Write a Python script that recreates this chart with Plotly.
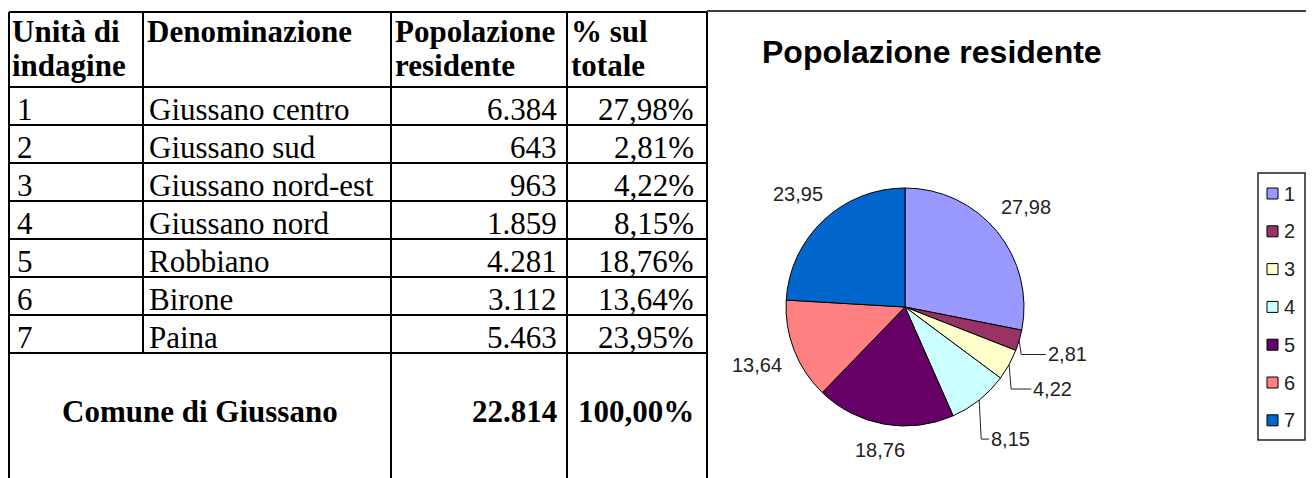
import math
import plotly.graph_objects as go

# ---------------- data ----------------
units = ["1", "2", "3", "4", "5", "6", "7"]
names = ["Giussano centro", "Giussano sud", "Giussano nord-est", "Giussano nord",
         "Robbiano", "Birone", "Paina"]
population = [6384, 643, 963, 1859, 4281, 3112, 5463]
pct = [27.98, 2.81, 4.22, 8.15, 18.76, 13.64, 23.95]
total_population = 22814
total_pct = 100.00
header_lines = [["Unità di", "indagine"], ["Denominazione"],
                ["Popolazione", "residente"], ["% sul", "totale"]]
total_label = "Comune di Giussano"
chart_title = "Popolazione residente"
slice_colors = ["#9999FF", "#993366", "#FFFFCC", "#CCFFFF", "#660066", "#FF8080", "#0066CC"]

# ---------------- helpers ----------------
def it_int(v):
    return f"{v:,}".replace(",", ".")

def it_pct(v, sign=True):
    s = f"{v:.2f}".replace(".", ",")
    return s + "%" if sign else s

# page body has an 8px margin: work in screen coordinates via the axes ranges
OFF = 8
SW, SH = 1314, 478
W, H = SW - OFF, SH - OFF
SERIF = "Liberation Serif, Times New Roman, serif"
SANS = "Liberation Sans, Arial, sans-serif"

col_x = [9, 143, 391, 567, 707]
header_top, header_bot = 12, 87
row_h = 38
row_tops = [header_bot + i * row_h for i in range(len(units))]
total_top = row_tops[-1] + row_h

fig = go.Figure()
shapes = []
annotations = []

def hline(y, x0, x1, w=2):
    shapes.append(dict(type="line", xref="x", yref="y", x0=x0, x1=x1, y0=y, y1=y,
                       line=dict(color="black", width=w)))

def vline(x, y0, y1, w=2):
    shapes.append(dict(type="line", xref="x", yref="y", x0=x, x1=x, y0=y0, y1=y1,
                       line=dict(color="black", width=w)))

def text(x, y, s, size=31, bold=False, anchor="left", family=SERIF, color="black"):
    if bold:
        s = "<b>" + s + "</b>"
    annotations.append(dict(xref="x", yref="y", x=x, y=y, text=s, showarrow=False,
                            xanchor=anchor, yanchor="middle",
                            font=dict(family=family, size=size, color=color)))

# table grid
hline(header_top, col_x[0], col_x[-1])
hline(header_bot, col_x[0], col_x[-1])
for t in row_tops:
    hline(t + row_h, col_x[0], col_x[-1])
vline(col_x[0], header_top, SH)
vline(col_x[1], header_top, total_top)
vline(col_x[2], header_top, SH)
vline(col_x[3], header_top, SH)
vline(col_x[4], header_top, SH)
# chart frame top
hline(11, col_x[-1], SW, w=1.5)

# header text
hdr_x = [10, 145, 393, 569]
for j, lines in enumerate(header_lines):
    for k, ln in enumerate(lines):
        text(hdr_x[j], 31 + 34 * k, ln, bold=True)

# body rows
for i in range(len(units)):
    yc = row_tops[i] + 22
    text(15, yc, units[i])
    text(147, yc, names[i])
    text(col_x[3] - 8, yc, it_int(population[i]), anchor="right")
    text(col_x[4] - 11, yc, it_pct(pct[i]), anchor="right")

# total row
ty = 411
text((col_x[0] + col_x[2]) / 2, ty, total_label, bold=True, anchor="center")
text(col_x[3] - 8, ty, it_int(total_population), bold=True, anchor="right")
text(col_x[4] - 11, ty, it_pct(total_pct), bold=True, anchor="right")

# chart title
text(760, 52, chart_title, size=32, bold=True, family=SANS)

# pie
cx, cy, R = 905, 307, 119
fig.add_trace(go.Pie(
    values=pct, labels=units, sort=False, direction="clockwise", rotation=0,
    marker=dict(colors=slice_colors, line=dict(color="black", width=1)),
    textinfo="none", hoverinfo="label+value", showlegend=False,
    domain=dict(x=[(cx - R - OFF) / W, (cx + R - OFF) / W],
                y=[(SH - cy - R) / H, (SH - cy + R) / H]),
))

# data labels placed from the slice mid-angles
LBL_SIZE = 20
total = sum(pct)
cum = 0.0
for v in pct:
    theta = math.radians((cum + v / 2) / total * 360)
    cum += v
    ux, uy = math.sin(theta), -math.cos(theta)
    lab = it_pct(v, sign=False)
    hw = 0.5 * LBL_SIZE * (0.556 * sum(ch.isdigit() for ch in lab) + 0.278 * lab.count(","))
    hh = 0.5 * LBL_SIZE * 0.75
    if v >= 10:
        d = R + 14 + abs(ux) * hw + abs(uy) * hh
        lx, ly = cx + d * ux, cy + d * uy
    else:
        d = R + 50
        lx, ly = cx + d * ux, cy + d * uy
        ex, ey = cx + R * ux, cy + R * uy
        shapes.append(dict(type="path", xref="x", yref="y",
                           path=f"M {ex:.1f},{ey:.1f} L {ex + 2:.1f},{ly:.1f} L {lx - hw - 2:.1f},{ly:.1f}",
                           line=dict(color="#222222", width=1)))
    annotations.append(dict(xref="x", yref="y", x=lx, y=ly, text=lab, showarrow=False,
                            xanchor="center", yanchor="middle",
                            font=dict(family=SANS, size=LBL_SIZE, color="#222222")))

# legend (manual, from units / colors)
lg_x0, lg_x1, lg_y0, lg_y1 = 1258, 1305, 173, 440
shapes.append(dict(type="rect", xref="x", yref="y", x0=lg_x0, x1=lg_x1, y0=lg_y0, y1=lg_y1,
                   line=dict(color="#222222", width=1.5), fillcolor="rgba(0,0,0,0)"))
for i, (u, c) in enumerate(zip(units, slice_colors)):
    yc = 193.5 + 37.8 * i
    shapes.append(dict(type="rect", xref="x", yref="y", x0=1267, x1=1278, y0=yc - 5.5, y1=yc + 5.5,
                       line=dict(color="black", width=1), fillcolor=c))
    text(1282, yc, u, size=20, family=SANS, color="#222222")

fig.update_layout(
    width=W, height=H, margin=dict(l=0, r=0, t=0, b=0),
    paper_bgcolor="white", plot_bgcolor="white",
    xaxis=dict(range=[OFF, SW], visible=False, fixedrange=True),
    yaxis=dict(range=[SH, OFF], visible=False, fixedrange=True),
    shapes=shapes, annotations=annotations, showlegend=False,
)
fig.write_html("out.html")
